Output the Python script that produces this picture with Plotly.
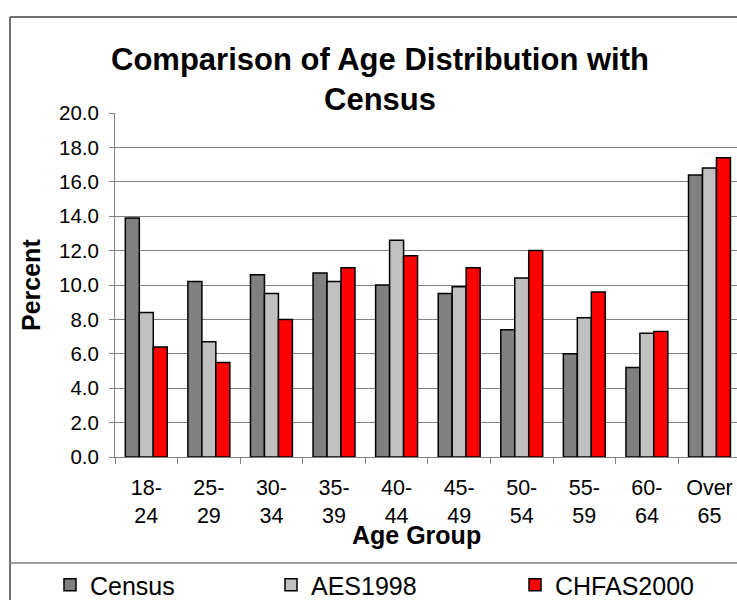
import plotly.graph_objects as go

categories = ["18-24", "25-29", "30-34", "35-39", "40-44", "45-49", "50-54", "55-59", "60-64", "Over 65"]
tick_labels = ["18-<br>24", "25-<br>29", "30-<br>34", "35-<br>39", "40-<br>44", "45-<br>49",
               "50-<br>54", "55-<br>59", "60-<br>64", "Over<br>65"]
census = [13.9, 10.2, 10.6, 10.7, 10.0, 9.5, 7.4, 6.0, 5.2, 16.4]
aes1998 = [8.4, 6.7, 9.5, 10.2, 12.6, 9.9, 10.4, 8.1, 7.2, 16.8]
chfas2000 = [6.4, 5.5, 8.0, 11.0, 11.7, 11.0, 12.0, 9.6, 7.3, 17.4]
y_ticks = [0, 2, 4, 6, 8, 10, 12, 14, 16, 18, 20]

FONT = "Liberation Sans, Arial, sans-serif"
W, H = 737, 600
ML, MR, MT, MB = 115, 0, 113, 143
PW, PH = W - ML - MR, H - MT - MB


def px_x(p):
    return (p - ML) / PW


def px_y(p):
    return (H - MB - p) / PH


fig = go.Figure()
series = [("Census", census, "#808080", "legend"),
          ("AES1998", aes1998, "#C0C0C0", "legend2"),
          ("CHFAS2000", chfas2000, "#FF0000", "legend3")]
for name, vals, col, lg in series:
    fig.add_trace(go.Bar(x=categories, y=vals, name=name, legend=lg,
                         marker=dict(color=col, line=dict(color="#000000", width=1.5))))

legend_common = dict(orientation="h", xref="container", yref="container", yanchor="middle",
                     xanchor="left", font=dict(family=FONT, size=25, color="#000000"),
                     bgcolor="rgba(0,0,0,0)", borderwidth=0)
fig.update_layout(
    width=W, height=H,
    margin=dict(l=ML, r=MR, t=MT, b=MB, autoexpand=False),
    paper_bgcolor="white", plot_bgcolor="white",
    barmode="group", bargap=0.33, bargroupgap=0,
    font=dict(family=FONT, color="#000000"),
    title=dict(text="<b>Comparison of Age Distribution with<br>Census</b>",
               font=dict(family=FONT, size=31, color="#000000"),
               x=380 / W, xanchor="center", xref="container",
               y=1 - 70 / H, yanchor="middle", yref="container"),
    xaxis=dict(type="category", range=[-0.5, 9.44], tickmode="array",
               tickvals=categories, ticktext=tick_labels, tickson="boundaries",
               ticks="outside", ticklen=6, tickcolor="#808080", tickwidth=1,
               showline=True, linecolor="#808080", linewidth=1, showgrid=False,
               tickfont=dict(family=FONT, size=21.5, color="#000000"),
               ticklabelstandoff=11),
    yaxis=dict(range=[0, 20], tickmode="array", tickvals=y_ticks, tickformat=".1f",
               ticks="outside", ticklen=5, tickcolor="#808080", tickwidth=1,
               showline=True, linecolor="#808080", linewidth=1,
               showgrid=True, gridcolor="#808080", gridwidth=1, zeroline=False,
               tickfont=dict(family=FONT, size=20.5, color="#000000"),
               ticklabelstandoff=6),
    legend=dict(x=50 / W, y=1 - 585 / H, **legend_common),
    legend2=dict(x=271 / W, y=1 - 585 / H, **legend_common),
    legend3=dict(x=515 / W, y=1 - 585 / H, **legend_common),
    showlegend=True,
    annotations=[
        dict(text="<b>Percent</b>", textangle=-90, x=px_x(31), y=0.5, xref="paper", yref="paper",
             showarrow=False, xanchor="center", yanchor="middle",
             font=dict(family=FONT, size=25, color="#000000")),
        dict(text="<b>Age Group</b>", x=px_x(416), y=px_y(535), xref="paper", yref="paper",
             showarrow=False, xanchor="center", yanchor="middle",
             font=dict(family=FONT, size=25, color="#000000")),
    ],
    shapes=[
        dict(type="line", xref="paper", yref="paper", x0=px_x(10), x1=px_x(10),
             y0=px_y(17), y1=px_y(620), line=dict(color="#404040", width=1.5)),
        dict(type="line", xref="paper", yref="paper", x0=px_x(10), x1=px_x(760),
             y0=px_y(17), y1=px_y(17), line=dict(color="#404040", width=1.5)),
        dict(type="line", xref="paper", yref="paper", x0=px_x(10), x1=px_x(760),
             y0=px_y(563), y1=px_y(563), line=dict(color="#808080", width=1.5)),
    ],
)

fig.write_html("out.html", config={"displayModeBar": False},
               post_script="document.body.style.margin='0';document.body.style.overflow='hidden';")
